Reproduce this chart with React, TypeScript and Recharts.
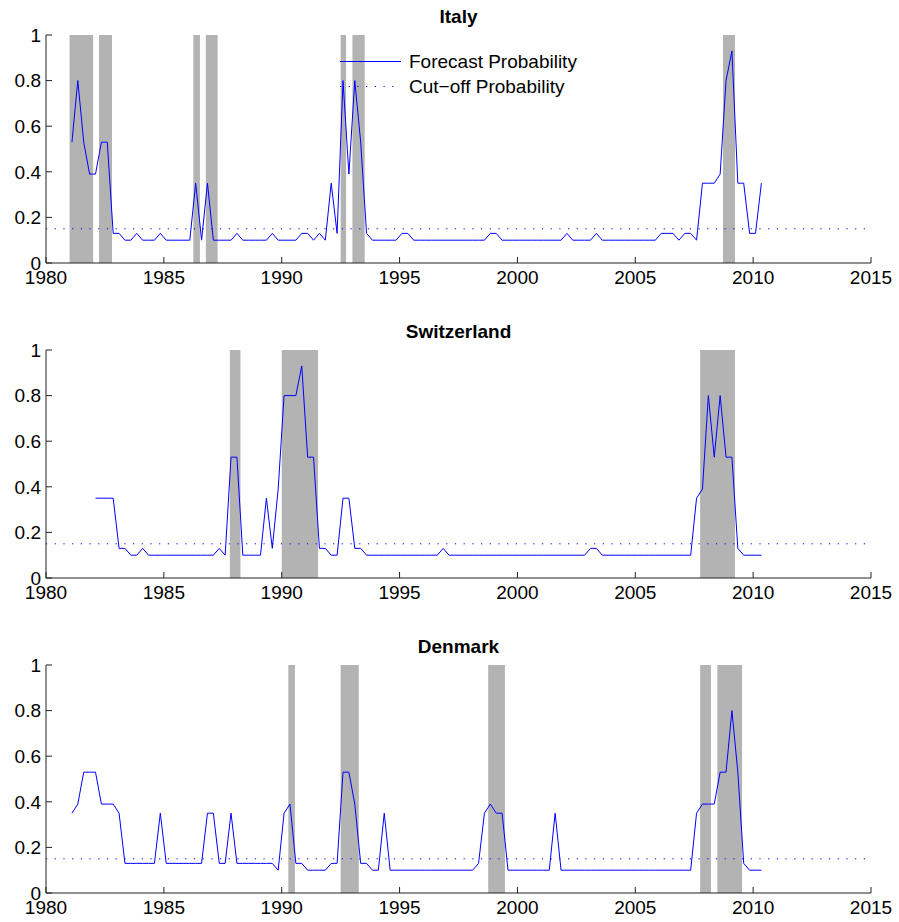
import React from "react";
import {
  LineChart,
  Line,
  XAxis,
  YAxis,
  ReferenceArea,
  ReferenceLine,
  Legend,
} from "recharts";

// quarterly forecasts, first observation plotted at 1981.1
const START = 1981.1;

const italy = [
  0.53, 0.8, 0.53, 0.39, 0.39, 0.53, 0.53, 0.13, 0.13, 0.1,
  0.1, 0.13, 0.1, 0.1, 0.1, 0.13, 0.1, 0.1, 0.1, 0.1,
  0.1, 0.35, 0.1, 0.35, 0.1, 0.1, 0.1, 0.1, 0.13, 0.1,
  0.1, 0.1, 0.1, 0.1, 0.13, 0.1, 0.1, 0.1, 0.1, 0.13,
  0.13, 0.1, 0.13, 0.1, 0.35, 0.13, 0.8, 0.39, 0.8, 0.53,
  0.13, 0.1, 0.1, 0.1, 0.1, 0.1, 0.13, 0.13, 0.1, 0.1,
  0.1, 0.1, 0.1, 0.1, 0.1, 0.1, 0.1, 0.1, 0.1, 0.1,
  0.1, 0.13, 0.13, 0.1, 0.1, 0.1, 0.1, 0.1, 0.1, 0.1,
  0.1, 0.1, 0.1, 0.1, 0.13, 0.1, 0.1, 0.1, 0.1, 0.13,
  0.1, 0.1, 0.1, 0.1, 0.1, 0.1, 0.1, 0.1, 0.1, 0.1,
  0.13, 0.13, 0.13, 0.1, 0.13, 0.13, 0.1, 0.35, 0.35, 0.35,
  0.39, 0.8, 0.93, 0.35, 0.35, 0.13, 0.13, 0.35,
];

const switzerland = [
  null, null, null, null, 0.35, 0.35, 0.35, 0.35, 0.13, 0.13,
  0.1, 0.1, 0.13, 0.1, 0.1, 0.1, 0.1, 0.1, 0.1, 0.1,
  0.1, 0.1, 0.1, 0.1, 0.1, 0.13, 0.1, 0.53, 0.53, 0.1,
  0.1, 0.1, 0.1, 0.35, 0.13, 0.39, 0.8, 0.8, 0.8, 0.93,
  0.53, 0.53, 0.13, 0.13, 0.1, 0.1, 0.35, 0.35, 0.13, 0.13,
  0.1, 0.1, 0.1, 0.1, 0.1, 0.1, 0.1, 0.1, 0.1, 0.1,
  0.1, 0.1, 0.1, 0.13, 0.1, 0.1, 0.1, 0.1, 0.1, 0.1,
  0.1, 0.1, 0.1, 0.1, 0.1, 0.1, 0.1, 0.1, 0.1, 0.1,
  0.1, 0.1, 0.1, 0.1, 0.1, 0.1, 0.1, 0.1, 0.13, 0.13,
  0.1, 0.1, 0.1, 0.1, 0.1, 0.1, 0.1, 0.1, 0.1, 0.1,
  0.1, 0.1, 0.1, 0.1, 0.1, 0.1, 0.35, 0.39, 0.8, 0.53,
  0.8, 0.53, 0.53, 0.13, 0.1, 0.1, 0.1, 0.1,
];

const denmark = [
  0.35, 0.39, 0.53, 0.53, 0.53, 0.39, 0.39, 0.39, 0.35, 0.13,
  0.13, 0.13, 0.13, 0.13, 0.13, 0.35, 0.13, 0.13, 0.13, 0.13,
  0.13, 0.13, 0.13, 0.35, 0.35, 0.13, 0.13, 0.35, 0.13, 0.13,
  0.13, 0.13, 0.13, 0.13, 0.13, 0.1, 0.35, 0.39, 0.13, 0.13,
  0.1, 0.1, 0.1, 0.1, 0.13, 0.13, 0.53, 0.53, 0.39, 0.13,
  0.13, 0.1, 0.1, 0.35, 0.1, 0.1, 0.1, 0.1, 0.1, 0.1,
  0.1, 0.1, 0.1, 0.1, 0.1, 0.1, 0.1, 0.1, 0.1, 0.13,
  0.35, 0.39, 0.35, 0.35, 0.1, 0.1, 0.1, 0.1, 0.1, 0.1,
  0.1, 0.1, 0.35, 0.1, 0.1, 0.1, 0.1, 0.1, 0.1, 0.1,
  0.1, 0.1, 0.1, 0.1, 0.1, 0.1, 0.1, 0.1, 0.1, 0.1,
  0.1, 0.1, 0.1, 0.1, 0.1, 0.1, 0.35, 0.39, 0.39, 0.39,
  0.53, 0.53, 0.8, 0.53, 0.13, 0.1, 0.1, 0.1,
];

// recession periods [start, end]
const italyBands = [
  [1981.0, 1982.0],
  [1982.25, 1982.8],
  [1986.25, 1986.53],
  [1986.78, 1987.28],
  [1992.5, 1992.73],
  [1993.0, 1993.52],
  [2008.72, 2009.23],
];
const switzerlandBands = [
  [1987.8, 1988.25],
  [1990.0, 1991.54],
  [2007.75, 2009.23],
];
const denmarkBands = [
  [1990.28, 1990.56],
  [1992.5, 1993.27],
  [1998.76, 1999.47],
  [2007.75, 2008.21],
  [2008.48, 2009.53],
];

const CUTOFF = 0.15;
const xTicks = [1980, 1985, 1990, 1995, 2000, 2005, 2010, 2015];
const yTicks = [0, 0.2, 0.4, 0.6, 0.8, 1];

const FONT = "'Liberation Sans', Arial, Helvetica, sans-serif";
const BLUE = "#0000ff";
const GRAY = "#b3b3b3";

const data = italy.map((v, i) => ({
  t: START + i / 4,
  italy: v,
  switzerland: switzerland[i],
  denmark: denmark[i],
}));

const tickStyle = { fill: "#000", fontSize: 19, fontFamily: FONT };

function LegendBox() {
  return (
    <svg width={260} height={52} style={{ display: "block" }}>
      <rect x={2} y={13} width={61} height={1} fill={BLUE} />
      <text x={71} y={20} fontSize={19} fontFamily={FONT} fill="#000">
        Forecast Probability
      </text>
      <line
        x1={2}
        x2={60}
        y1={38.5}
        y2={38.5}
        stroke={BLUE}
        strokeWidth={1}
        strokeDasharray="1.2 7.5"
      />
      <text x={71} y={45} fontSize={19} fontFamily={FONT} fill="#000">
        Cut−off Probability
      </text>
    </svg>
  );
}

function Panel({
  title,
  dataKey,
  bands,
  top,
  legend,
}: {
  title: string;
  dataKey: string;
  bands: number[][];
  top: number;
  legend?: boolean;
}) {
  return (
    <div style={{ position: "absolute", left: 0, top, width: 899, height: 315 }}>
      <div
        style={{
          position: "absolute",
          left: 46,
          width: 825,
          top: 7,
          textAlign: "center",
          fontFamily: FONT,
          fontWeight: "bold",
          fontSize: 19,
          lineHeight: "19px",
          zIndex: 2,
        }}
      >
        {title}
      </div>
      <LineChart
        width={899}
        height={315}
        data={data}
        margin={{ top: 35, right: 28, bottom: 0, left: 0 }}
      >
        <XAxis
          dataKey="t"
          type="number"
          domain={[1980, 2015]}
          ticks={xTicks}
          interval={0}
          height={52}
          tickSize={-6}
          tickMargin={14}
          axisLine={{ stroke: "#222" }}
          tickLine={{ stroke: "#222" }}
          tick={tickStyle}
        />
        <YAxis
          type="number"
          domain={[0, 1]}
          ticks={yTicks}
          interval={0}
          width={46}
          tickSize={-6}
          tickMargin={11}
          axisLine={{ stroke: "#222" }}
          tickLine={{ stroke: "#222" }}
          tick={tickStyle}
          tickFormatter={(v: number) => String(v)}
        />
        {bands.map(([a, b], i) => (
          <ReferenceArea
            key={i}
            x1={a}
            x2={b}
            y1={0}
            y2={1}
            fill={GRAY}
            fillOpacity={1}
            stroke="none"
          />
        ))}
        <ReferenceLine
          y={CUTOFF}
          stroke={BLUE}
          strokeWidth={1}
          strokeDasharray="1.2 7.5"
        />
        <Line
          type="linear"
          dataKey={dataKey}
          stroke={BLUE}
          strokeWidth={1}
          dot={false}
          isAnimationActive={false}
          name="Forecast Probability"
        />
        {legend && (
          <Legend
            layout="vertical"
            align="center"
            verticalAlign="middle"
            content={() => <LegendBox />}
            wrapperStyle={{ position: "absolute", left: 338, top: 48, width: 260 }}
          />
        )}
      </LineChart>
    </div>
  );
}

export default function App() {
  return (
    <div
      style={{
        position: "absolute",
        left: 0,
        top: 0,
        width: 899,
        height: 922,
        background: "#fff",
      }}
    >
      <Panel title="Italy" dataKey="italy" bands={italyBands} top={0} legend />
      <Panel title="Switzerland" dataKey="switzerland" bands={switzerlandBands} top={315} />
      <Panel title="Denmark" dataKey="denmark" bands={denmarkBands} top={630} />
    </div>
  );
}
